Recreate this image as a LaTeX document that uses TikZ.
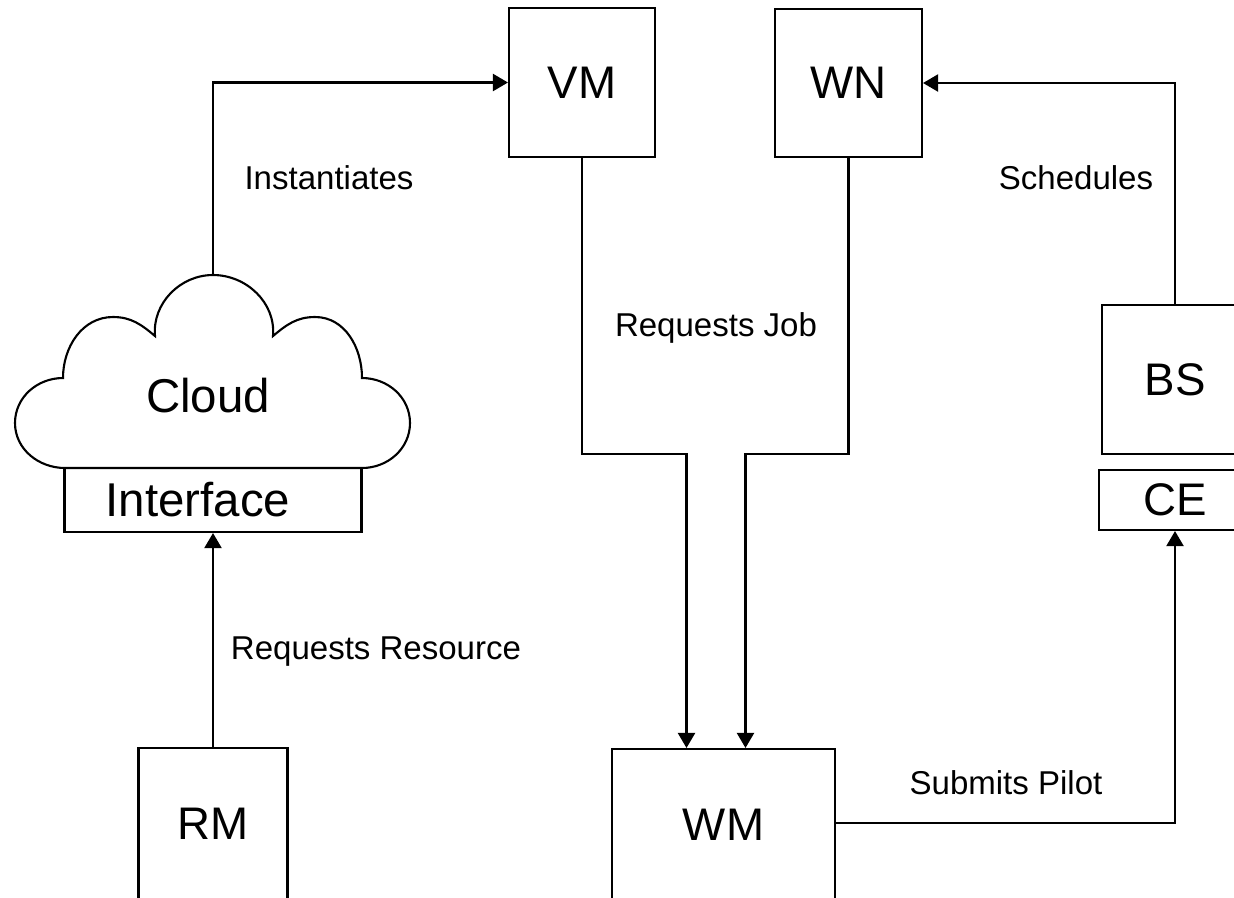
\documentclass[tikz,border=0pt]{standalone}
\usepackage{fontspec}
\setmainfont{Liberation Sans}
\usetikzlibrary{arrows.meta}

\begin{document}
\begin{tikzpicture}[x=0.02cm,y=0.02cm,line width=1.2pt,
    >={Triangle[length=0.3cm,width=0.34cm]},
    box/.style={draw,inner sep=0pt,font=\fontsize{26}{30}\selectfont},
    lbl/.style={font=\fontsize{18.8}{22}\selectfont}]
  \useasboundingbox (0,0) rectangle (1234,-897);

  % the cloud with its flat bottom
  \draw (65,-468) to[out=180,in=-90] (15,-423) to[out=90,in=180] (63,-378)
    to[out=90,in=180] (113,-317) to[out=0,in=140] (155,-336)
    to[out=95,in=180] (213,-275) to[out=0,in=85] (273,-336)
    to[out=40,in=180] (315,-317) to[out=0,in=90] (362,-378)
    to[out=0,in=90] (410,-423) to[out=-90,in=0] (362,-468) -- cycle;
  \coordinate (cloudtop) at (213,-275);
  \node[font=\fontsize{27}{30}\selectfont] (cloud) at (208,-396) {Cloud};

  \node[box,font=\fontsize{27}{30}\selectfont,minimum width=5.94cm,minimum height=1.28cm] (iface) at (213,-500) {\hspace*{-0.6cm}Interface};
  \node[box,minimum width=2.92cm,minimum height=2.98cm] (VM) at (582,-82.5) {VM};
  \node[box,minimum width=2.94cm,minimum height=2.96cm] (WN) at (848.5,-83) {WN};
  \node[box,minimum width=2.92cm,minimum height=2.98cm] (BS) at (1175,-379.5) {BS};
  \node[box,minimum width=3.04cm,minimum height=1.2cm] (CE) at (1175,-500) {CE};
  % bottoms run off the page
  \node[box,text depth=0.36cm,minimum width=2.98cm,minimum height=3.4cm] (RM) at (213,-833) {RM};
  \node[box,text depth=0.36cm,minimum width=4.46cm,minimum height=3.4cm] (WM) at (723.5,-834) {WM};

  \node[lbl] (inst) at (329,-178) {Instantiates};
  \node[lbl] (rqjob) at (716,-328) {Requests Job};
  \node[lbl] (sched) at (1076,-178) {Schedules};
  \node[lbl] (rqres) at (376,-652) {Requests Resource};
  \node[lbl] (pilot) at (1006,-783) {Submits Pilot};

  \draw[->] (cloudtop) |- (VM.west);
  \draw[->] (BS.north) |- (WN.east);
  \draw[->] (VM.south) -- ++(0,-296) -| ([xshift=-0.74cm]WM.north);
  \draw[->] (WN.south) -- ++(0,-296) -| ([xshift=0.44cm]WM.north);
  \draw[->] ([yshift=0.22cm]WM.east) -| (CE.south);
  \draw[->] (RM.north) -- (iface.south);
\end{tikzpicture}
\end{document}
